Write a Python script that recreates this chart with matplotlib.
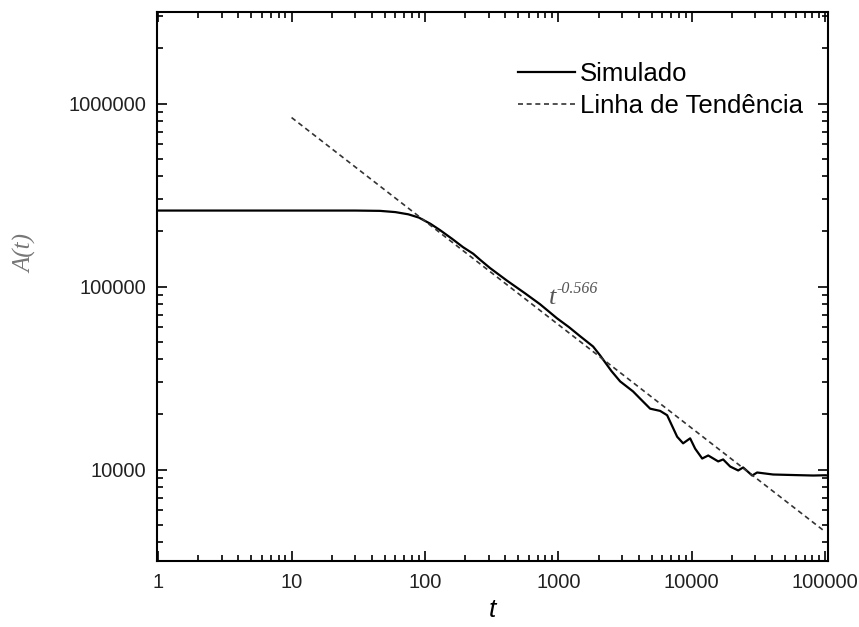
import matplotlib
matplotlib.use('Agg')
import matplotlib.pyplot as plt
from matplotlib import ticker

plt.rcParams['font.family'] = ['Liberation Sans', 'DejaVu Sans']

# simulated curve
t_sim = [1, 10, 30, 46, 60, 75, 90, 110, 130, 160, 193, 230, 259, 308, 413, 560,
         729, 977, 1200, 1455, 1821, 2056, 2500, 2904, 3631, 4100, 4874, 5794,
         6535, 7770, 8610, 9720, 10600, 11970, 13280, 15780, 17190, 19400, 22280,
         24270, 28360, 30900, 40700, 60000, 81300, 100000, 105000]
A_sim = [260000, 260000, 260000, 259000, 255000, 248000, 238000, 220000, 203000,
         182000, 164000, 151000, 140000, 126000, 107500, 92000, 80000, 67000,
         60000, 53500, 47000, 42000, 34500, 30300, 26700, 24400, 21500, 20900,
         19800, 15100, 13900, 14800, 13000, 11480, 11930, 11070, 11350, 10380,
         9880, 10260, 9270, 9630, 9390, 9320, 9270, 9300, 9270]

# trend line end points
t_trend = [10, 100000]
A_trend = [838000, 4570]

xticks = [1, 10, 100, 1000, 10000, 100000]
yticks = [10000, 100000, 1000000]

fig = plt.figure(figsize=(8.59, 6.27), dpi=100)
ax = fig.add_axes([157/859, 1 - 561/627, (828 - 157)/859, (561 - 12)/627])

ax.plot(t_sim, A_sim, color='black', lw=1.6, label='Simulado')
ax.plot(t_trend, A_trend, color='#333333', lw=1.2, ls=(0, (3, 2.2)), label='Linha de Tendência')

ax.set_xscale('log')
ax.set_yscale('log')
ax.set_xlim(0.98, 1.05e5)
ax.set_ylim(10**3.5, 10**6.5)

fmt = ticker.FuncFormatter(lambda v, p: '%d' % round(v))
ax.xaxis.set_major_locator(ticker.FixedLocator(xticks))
ax.yaxis.set_major_locator(ticker.FixedLocator(yticks))
ax.xaxis.set_major_formatter(fmt)
ax.yaxis.set_major_formatter(fmt)
ax.xaxis.set_minor_locator(ticker.LogLocator(base=10, subs=range(2, 10), numticks=20))
ax.yaxis.set_minor_locator(ticker.LogLocator(base=10, subs=range(2, 10), numticks=20))
ax.xaxis.set_minor_formatter(ticker.NullFormatter())
ax.yaxis.set_minor_formatter(ticker.NullFormatter())

ax.tick_params(which='both', direction='in', top=True, right=True, width=1.2,
               labelsize=14.5, colors='black', labelcolor='#222222')
ax.tick_params(which='major', length=7)
ax.tick_params(which='minor', length=4)
ax.tick_params(axis='x', pad=9)
ax.tick_params(axis='y', pad=8)
for s in ax.spines.values():
    s.set_linewidth(1.5)

ax.set_xlabel('t', fontsize=19, style='italic')
ax.xaxis.set_label_coords(0.5, -0.068)
ax.set_ylabel('A(t)', fontsize=18, style='italic', family='Liberation Serif', color='#777777')
ax.yaxis.set_label_coords(-0.179, 0.56)

# t^-0.566 annotation
ax.text(850, 80000, 't', fontsize=19, style='italic', family='Liberation Serif', color='#555555')
ax.text(960, 92000, '-0.566', fontsize=11.5, style='italic', family='Liberation Serif', color='#555555')

ax.legend(loc='upper left', bbox_to_anchor=(518/859, 1 - 62/627),
          bbox_transform=fig.transFigure, frameon=False, fontsize=18.5,
          handlelength=2.2, handletextpad=0.2, labelspacing=0.32,
          borderpad=0, borderaxespad=0)

fig.savefig('out.png', dpi=100)
